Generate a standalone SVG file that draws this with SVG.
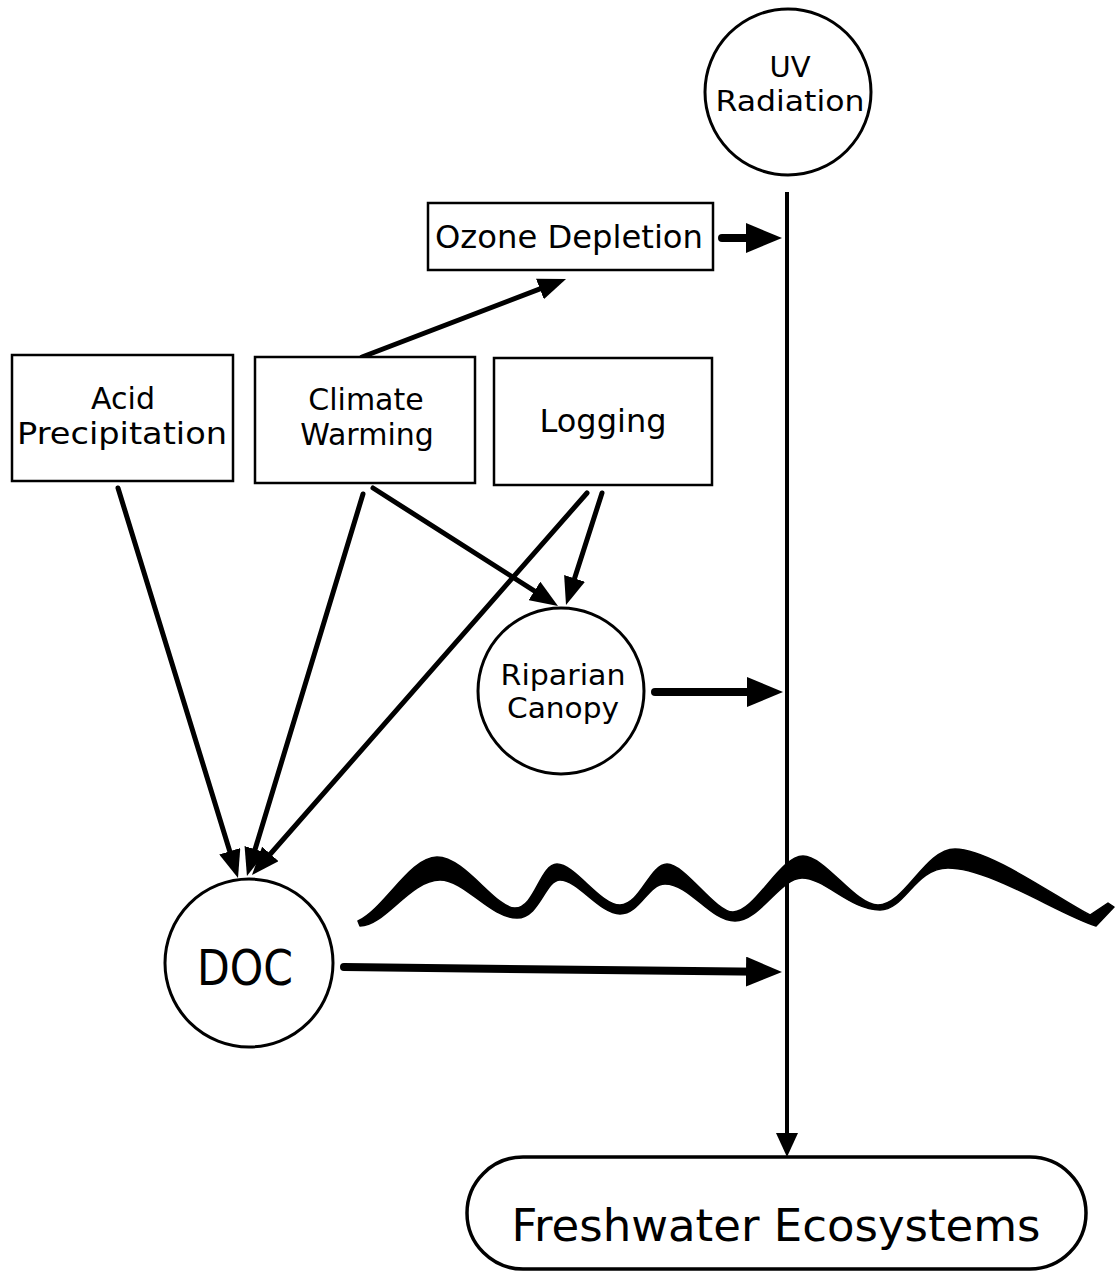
<svg xmlns="http://www.w3.org/2000/svg" width="1117" height="1272" viewBox="0 0 1117 1272">
<style>
  .box{fill:#fff;stroke:#000;stroke-width:2.5}
  .circ{fill:#fff;stroke:#000;stroke-width:3}
  .t{font-family:"DejaVu Sans","Noto Sans",sans-serif;fill:#000;text-anchor:middle}
  .thin{stroke:#000;stroke-width:5;fill:none;stroke-linecap:round;marker-end:url(#head)}
  .thick{stroke:#000;stroke-width:8;fill:none;stroke-linecap:round;marker-end:url(#bighead)}
</style>
<defs>
  <marker id="head" markerUnits="userSpaceOnUse" markerWidth="28" markerHeight="22" refX="12" refY="11" orient="auto">
    <path d="M0,0 L28,11 L0,22 z" fill="#000"/>
  </marker>
  <marker id="bighead" markerUnits="userSpaceOnUse" markerWidth="36" markerHeight="30" refX="16" refY="15" orient="auto">
    <path d="M0,0 L36,15 L0,30 z" fill="#000"/>
  </marker>
  <marker id="vhead" markerUnits="userSpaceOnUse" markerWidth="24" markerHeight="22" refX="10" refY="11" orient="auto">
    <path d="M0,0 L24,11 L0,22 z" fill="#000"/>
  </marker>
</defs>
<rect width="1117" height="1272" fill="#fff"/>

<g id="wave">
  <path fill="#000" stroke="#000" stroke-width="1.5" stroke-linejoin="round" d="M358,921 C385,908 410,857 437,857 C465,857 495,908 515,908 C535,908 540,864 557,864 C575,864 600,905 620,905 C640,905 650,864 667,864 C685,864 715,912 733,912 C755,912 780,856 803,856 C825,856 855,905 878,905 C905,905 925,849 955,849 C990,849 1060,900 1090,915 L1108,903 L1114,907 L1096,926 C1060,915 990,868 948,868 C915,868 905,910 880,910 C850,910 825,878 802,878 C780,878 760,921 735,921 C710,921 690,884 665,884 C648,884 640,914 620,914 C600,914 578,880 560,880 C545,880 540,918 517,918 C490,918 465,880 440,880 C410,880 385,926 360,926 Z"/>
</g>

<g id="connectors">
  <line x1="787" y1="192" x2="787" y2="1143" stroke="#000" stroke-width="4" marker-end="url(#vhead)"/>
  <line class="thin" x1="362" y1="357" x2="551.1" y2="284.7"/>
  <line class="thin" x1="118" y1="488" x2="233.3" y2="862.7"/>
  <line class="thin" x1="363" y1="494" x2="251.6" y2="860.7"/>
  <line class="thin" x1="587" y1="493" x2="262.5" y2="863"/>
  <line class="thin" x1="373" y1="488" x2="544.5" y2="597.4"/>
  <line class="thin" x1="602" y1="493" x2="570.9" y2="589.8"/>
  <line class="thick" x1="722" y1="238" x2="762" y2="238"/>
  <line class="thick" x1="655" y1="692" x2="763" y2="692"/>
  <line class="thick" x1="344" y1="967" x2="762" y2="971.8"/>
</g>

<g id="uv-radiation">
  <circle class="circ" cx="788" cy="92" r="83" stroke-width="3.5"/>
  <text class="t" x="790" y="77" font-size="29">UV</text>
  <text class="t" x="790" y="111" font-size="29" textLength="149" lengthAdjust="spacingAndGlyphs">Radiation</text>
</g>

<g id="ozone-depletion">
  <rect class="box" x="428" y="203" width="285" height="67"/>
  <text class="t" x="569" y="248" font-size="32" textLength="268" lengthAdjust="spacingAndGlyphs">Ozone Depletion</text>
</g>

<g id="acid-precipitation">
  <rect class="box" x="12" y="355" width="221" height="126"/>
  <text class="t" x="123" y="409" font-size="30">Acid</text>
  <text class="t" x="122" y="444" font-size="30" textLength="210" lengthAdjust="spacingAndGlyphs">Precipitation</text>
</g>

<g id="climate-warming">
  <rect class="box" x="255" y="357" width="220" height="126"/>
  <text class="t" x="366" y="410" font-size="30">Climate</text>
  <text class="t" x="367" y="445" font-size="30">Warming</text>
</g>

<g id="logging">
  <rect class="box" x="494" y="358" width="218" height="127"/>
  <text class="t" x="603" y="432" font-size="32">Logging</text>
</g>

<g id="riparian-canopy">
  <circle class="circ" cx="561" cy="691" r="83" stroke-width="2.5"/>
  <text class="t" x="563" y="685" font-size="28" textLength="125" lengthAdjust="spacingAndGlyphs">Riparian</text>
  <text class="t" x="563" y="718" font-size="28" textLength="112" lengthAdjust="spacingAndGlyphs">Canopy</text>
</g>

<g id="doc">
  <circle class="circ" cx="249" cy="963" r="84" stroke-width="2.5"/>
  <text class="t" x="245" y="985" font-size="50" textLength="96" lengthAdjust="spacingAndGlyphs">DOC</text>
</g>

<g id="freshwater-ecosystems">
  <rect x="467" y="1157" width="619" height="112" rx="56" ry="56" fill="#fff" stroke="#000" stroke-width="3.5"/>
  <text class="t" x="776" y="1241" font-size="45">Freshwater Ecosystems</text>
</g>
</svg>
